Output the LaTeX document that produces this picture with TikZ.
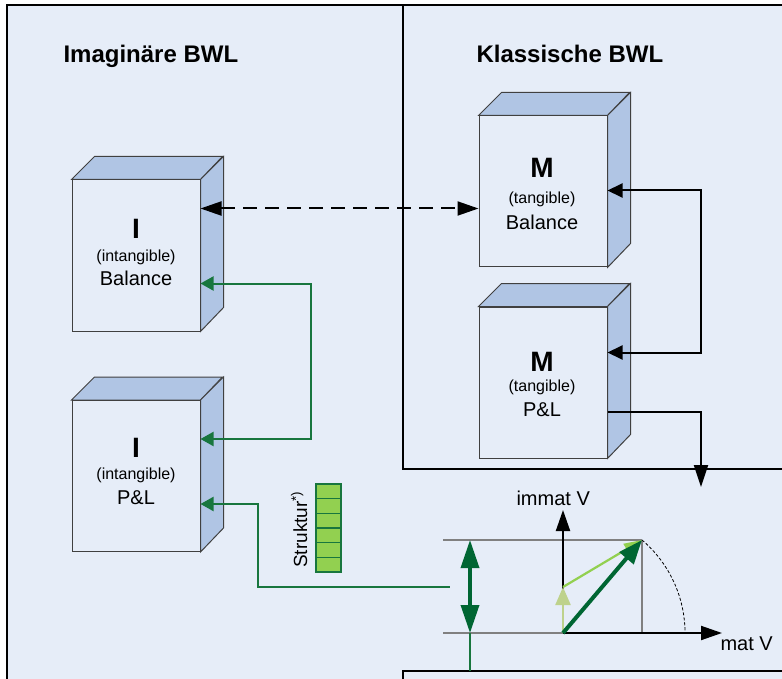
\documentclass[tikz,border=0pt]{standalone}
\usepackage{fontspec}
\setmainfont{Liberation Sans}
\usetikzlibrary{arrows.meta,calc}
\definecolor{bgblue}{RGB}{230,237,248}
\definecolor{sideblue}{RGB}{176,197,228}
\definecolor{edgegray}{RGB}{64,64,64}
\definecolor{conngreen}{RGB}{24,118,62}
\definecolor{darkgreen}{RGB}{0,102,51}
\definecolor{lightgreen}{RGB}{146,208,80}
\definecolor{palegreen}{RGB}{190,210,140}
\definecolor{linegray}{RGB}{128,128,128}
\tikzset{
  cubefront/.style={draw=edgegray, line width=1pt, fill=bgblue, minimum width=128pt, minimum height=151pt, inner sep=0pt},
  cubeside/.style={draw=edgegray, line width=1pt, fill=sideblue},
  bigletter/.style={anchor=base, font=\fontsize{28}{28}\selectfont\bfseries},
  smalltxt/.style={anchor=base, font=\fontsize{16}{16}\selectfont},
  midtxt/.style={anchor=base, font=\fontsize{20}{20}\selectfont},
  titletxt/.style={anchor=base west, font=\fontsize{24}{24}\selectfont\bfseries},
  blackconn/.style={draw=black, line width=2pt},
  greenconn/.style={draw=conngreen, line width=2pt},
  gtipboth/.style={{Triangle[length=13pt,width=14pt]}-{Triangle[length=13pt,width=14pt]}},
  frameline/.style={draw=black, line width=2pt},
  cell/.style={draw=conngreen, line width=1.2pt, fill=lightgreen},
  grayline/.style={draw=linegray, line width=1.5pt},
}
\newcommand\cubebox[3]{%
  \node[cubefront] (#1) at (#2,#3) {};
  \draw[cubeside] (#1.north west) -- ++(23,-23) -- ++(128,0) -- (#1.north east) -- cycle;
  \draw[cubeside] (#1.north east) -- ++(23,-23) -- ++(0,151) -- (#1.south east) -- cycle;
  \node[cubefront, fill=bgblue] at (#2,#3) {};
}
\begin{document}
\begin{tikzpicture}[x=1pt,y=-1pt]
\clip (0,0) rectangle (782,679);
% background and frames
\fill[bgblue] (7,5) rectangle (790,690);
\draw[frameline] (7,690) -- (7,5) -- (790,5);
\draw[draw=black, line width=1.7pt] (403,5) -- (403,469) -- (790,469);
\draw[frameline] (403,690) -- (403,671) -- (790,671);
% titles
\node[titletxt] (t1) at (60,63) {Imaginäre BWL};
\node[titletxt] (t2) at (473,63) {Klassische BWL};
% cubes
\cubebox{ib}{136}{255.5}
\cubebox{ip}{136}{476}
\cubebox{mb}{543}{191.5}
\cubebox{mp}{543}{382.5}
% cube texts
\node[bigletter] (ibl) at (136,239) {I};
\node[smalltxt] (ibs) at (136,261.6) {(intangible)};
\node[midtxt] (ibt) at (136,286) {Balance};
\node[bigletter] (ipl) at (136,457) {I};
\node[smalltxt] (ips) at (136,479.3) {(intangible)};
\node[midtxt] (ipt) at (136,504) {P\&L};
\node[bigletter] (mbl) at (542,178) {M};
\node[smalltxt] (mbs) at (542,203.6) {(tangible)};
\node[midtxt] (mbt) at (542,230) {Balance};
\node[bigletter] (mpl) at (542,371) {M};
\node[smalltxt] (mps) at (542,391.6) {(tangible)};
\node[midtxt] (mpt) at (542,416) {P\&L};
% connectors
\draw[blackconn, dash pattern=on 14pt off 8pt, {Triangle[length=21pt,width=14pt]}-{Triangle[length=21pt,width=14pt]}]
  ($(ib.north east)+(0,29)$) -- ($(mb.north west)+(0,93)$);
\coordinate (g1) at (311,360);
\draw[greenconn, gtipboth] ($(ib.north east)+(0,104)$) -| (g1) |- ($(ip.north east)+(0,39)$);
\coordinate (g2) at (258,560);
\coordinate (g3) at (450,587);
\draw[greenconn, {Triangle[length=13pt,width=14pt]}-] ($(ip.north east)+(0,104)$) -| (g2) |- (g3);
\coordinate (k1) at (701,270);
\draw[blackconn, {Triangle[length=15pt,width=14pt]}-{Triangle[length=15pt,width=14pt]}]
  ($(mb.north east)+(0,75)$) -| (k1) |- ($(mp.north east)+(0,46)$);
\coordinate (k2) at (701,487);
\draw[blackconn, -{Triangle[length=22pt,width=14pt]}] ($(mp.north east)+(0,105)$) -| (k2);
% Struktur bar
\foreach \i in {0,...,5} \draw[cell] (316,{484+\i*14.667}) rectangle ++(25,14.667);
\node[rotate=90, anchor=base west, font=\fontsize{19}{19}\selectfont, inner sep=0pt] (st) at (307,568) {Struktur\textsuperscript{*)}};
% chart
\coordinate (O) at (563,633);
\coordinate (T) at (642,540);
\coordinate (M) at (563,587);
\coordinate (L1) at (443,540);
\coordinate (L2) at (443,633);
\coordinate (TB) at (642,633);
\draw[grayline] (L1) -- (T);
\draw[grayline] (L2) -- (O);
\draw[grayline] (T) -- (TB);
\draw[black, line width=0.8pt, dash pattern=on 3pt off 2pt] (T) arc[start angle=-49.65, end angle=0, radius=122];
\coordinate (YA) at (563,510);
\coordinate (XA) at (722,633);
\draw[blackconn, -{Triangle[length=21pt,width=14pt]}] (O) -- (YA);
\draw[blackconn, -{Triangle[length=21pt,width=14pt]}] (O) -- (XA);
\node[anchor=base west, font=\fontsize{20}{20}\selectfont] (iv) at (513,505.7) {immat V};
\node[anchor=base west, font=\fontsize{20}{20}\selectfont] (mv) at (717,650) {mat V};
\draw[draw=palegreen, line width=2.2pt, -{Triangle[length=18pt,width=15pt]}] (O) -- (M);
\draw[draw=lightgreen, line width=2.2pt, -{Triangle[length=18pt,width=12pt]}] (M) -- (T);
\draw[draw=darkgreen, line width=4pt, -{Triangle[length=24pt,width=18pt]}] (O) -- (T);
\coordinate (D1) at (470,540);
\coordinate (D2) at (470,633);
\coordinate (D3) at (470,671);
\draw[draw=conngreen, line width=2pt] (D2) -- (D3);
\draw[draw=darkgreen, line width=3.5pt, {Triangle[length=28pt,width=18pt]}-{Triangle[length=28pt,width=18pt]}] (D1) -- (D2);
\end{tikzpicture}
\end{document}
